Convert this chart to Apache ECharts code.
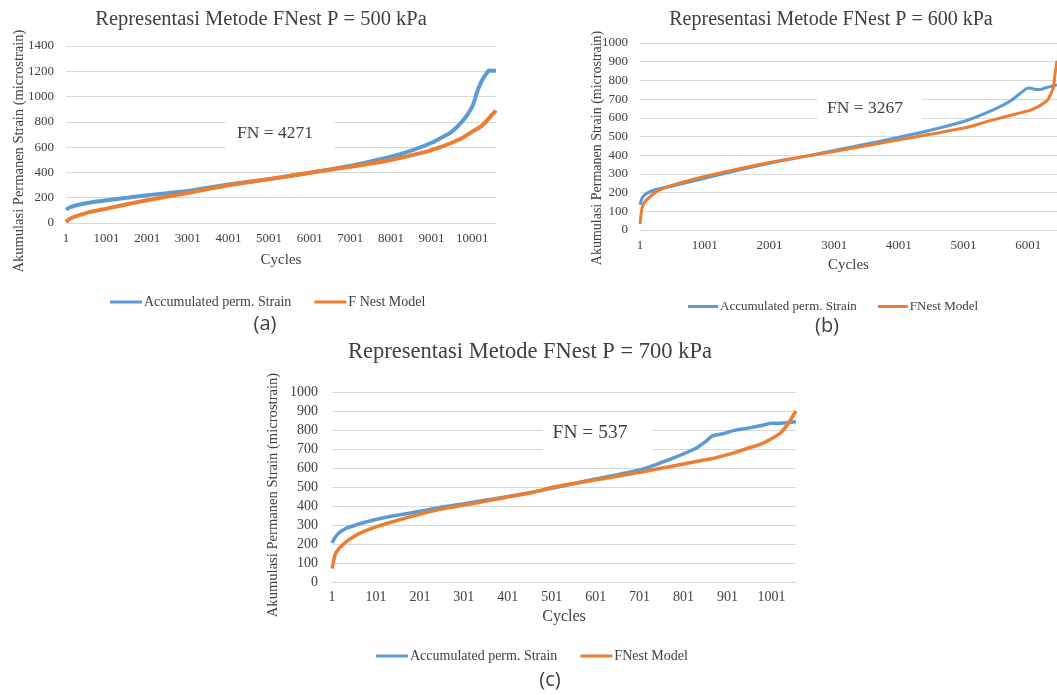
<!DOCTYPE html>
<html><head><meta charset="utf-8">
<script src="https://cdn.jsdelivr.net/npm/echarts@6/dist/echarts.min.js"></script>
<style>html,body{margin:0;padding:0;background:#fff}#c{width:1057px;height:695px}</style>
</head><body><div id="c"></div><script>
// ---- Chart (a) P = 500 kPa ----
const cyclesA = [1,100,200,367,600,1001,1500,2001,3001,4001,5001,6001,7001,7501,8001,8501,9001,9251,9501,9751,10001,10125,10208,10300,10375,10410,10586];
const strainA = [106,125,135,148,162,180,200,220,254,304,347,397,453,487,524,572,635,676,723,802,921,1040,1106,1160,1191,1207,1204];
const modelA  = [8,35,48,66,88,114,148,180,238,299,347,397,445,470,498,535,577,604,635,672,723,745,762,789,815,828,890];
const xTicksA = ['1','1001','2001','3001','4001','5001','6001','7001','8001','9001','10001'];
// ---- Chart (b) P = 600 kPa ----
const cyclesB = [1,27,52,103,258,516,1001,1501,2001,2501,3001,3501,4001,4501,5001,5460,5717,5975,6026,6100,6181,6284,6310,6387,6413,6423,6445];
const strainB = [134,165,179,196,218,237,277,318,357,391,425,460,496,535,580,643,688,757,760,752,751,762,764,771,773,774,777];
const modelB  = [32,107,137,161,205,241,286,325,361,391,420,451,482,513,545,589,612,635,640,650,665,690,700,760,830,855,905];
const xTicksB = ['1','1001','2001','3001','4001','5001','6001'];
// ---- Chart (c) P = 700 kPa ----
const cyclesC = [1,5,9,17,33,50,66,101,139,201,252,301,349,400,462,501,600,701,746,786,827,851,867,891,916,948,981,1001,1021,1037,1057];
const strainC = [206,222,238,259,282,296,308,329,347,372,395,412,430,449,475,493,542,590,625,660,701,739,769,780,798,810,825,836,836,838,843];
const modelC  = [70,114,150,176,211,238,259,290,317,357,385,405,425,447,474,498,537,577,597,614,633,643,650,664,680,704,730,754,783,827,900];
const xTicksC = ['1','101','201','301','401','501','601','701','801','901','1001'];

const titles = ['Representasi Metode FNest P = 500 kPa','Representasi Metode FNest P = 600 kPa','Representasi Metode FNest P = 700 kPa'];
const fnLabels = ['FN = 4271','FN = 3267','FN = 537'];
const panelLabels = ['(a)','(b)','(c)'];
const yTitle = 'Akumulasi Permanen Strain (microstrain)';
const xTitle = 'Cycles';
const nameStrain = 'Accumulated perm. Strain';
const nameModelA = 'F Nest Model';
const nameModel = 'FNest Model';

const SERIF = "'Liberation Serif','Times New Roman',serif";
const TXT = '#404040';
const GRID = '#d9d9d9';
const BLUE = '#5b9bd5';
const ORANGE = '#ed7d31';

function pairs(xs, ys){ return xs.map((x,i)=>[x, ys[i]]); }

function xAxis(idx, max, interval, ticks, fs, margin, gap){
  return {
    type:'value', gridIndex: idx, min: 1, max: max, interval: interval,
    axisLine:{show:true, lineStyle:{color:GRID, width:1}},
    axisTick:{show:false}, splitLine:{show:false},
    axisLabel:{color:TXT, fontFamily:SERIF, fontSize:fs, margin:margin, showMaxLabel:false,
      formatter: v => ticks.indexOf(String(Math.round(v))) >= 0 && Math.abs(v-Math.round(v))<1e-6 ? String(Math.round(v)) : ''},
    name: xTitle, nameLocation:'middle', nameGap: gap,
    nameTextStyle:{color:TXT, fontFamily:SERIF, fontSize:fs+2}
  };
}
function yAxis(idx, max, interval, fs, margin){
  return {
    type:'value', gridIndex: idx, min:0, max:max, interval:interval,
    axisLine:{show:false}, axisTick:{show:false},
    splitLine:{show:true, lineStyle:{color:GRID, width:1}},
    axisLabel:{color:TXT, fontFamily:SERIF, fontSize:fs, margin:margin, formatter: v => String(v)}
  };
}
function line(name, xi, data, color, w){
  return {type:'line', name:name, xAxisIndex:xi, yAxisIndex:xi, data:data,
    showSymbol:false, symbol:'none', smooth:0.25, lineStyle:{color:color, width:w}, itemStyle:{color:color}, z:3};
}
function legend(left, top, names, fs, gap, iw){
  return {left:left, top:top, padding:0, itemGap:gap, itemWidth:iw, itemHeight:3, icon:'rect',
    textStyle:{color:TXT, fontFamily:SERIF, fontSize:fs, padding:[0,0,0,-3]},
    data:[{name:names[0]},{name:names[1]}], selectedMode:false};
}
function txt(x, y, text, size, fam, rot){
  return {type:'text', x:x, y:y, rotation: rot||0, z:20,
    style:{text:text, fill:TXT, font: size+'px '+fam, align:'center', verticalAlign:'middle', textAlign:'center', textVerticalAlign:'middle'}};
}
function box(x, y, w, h){
  return {type:'rect', shape:{x:x, y:y, width:w, height:h}, style:{fill:'#fff'}, z:10};
}

const option = {
  backgroundColor:'#fff',
  animation:false,
  grid:[
    {left:66, top:46, width:430, height:177},
    {left:640, top:43, width:417, height:187},
    {left:332, top:392, width:464, height:190}
  ],
  xAxis:[
    xAxis(0, 10586, 1000, xTicksA, 13, 9, 30),
    xAxis(1, 6445, 1000, xTicksB, 13, 9, 28),
    xAxis(2, 1057, 100, xTicksC, 14, 8, 27)
  ],
  yAxis:[
    yAxis(0, 1400, 200, 13, 12),
    yAxis(1, 1000, 100, 13, 12),
    yAxis(2, 1000, 100, 14, 14)
  ],
  legend:[
    legend(110, 295, [nameStrain, nameModelA], 14, 23, 32),
    legend(688, 300, [nameStrain, nameModel], 13, 21, 30),
    legend(376, 649, [nameStrain, nameModel], 14, 23, 32)
  ],
  series:[
    line(nameStrain, 0, pairs(cyclesA, strainA), BLUE, 4),
    line(nameModelA, 0, pairs(cyclesA, modelA), ORANGE, 4),
    line(nameStrain, 1, pairs(cyclesB, strainB), BLUE, 3),
    line(nameModel, 1, pairs(cyclesB, modelB), ORANGE, 3),
    line(nameStrain, 2, pairs(cyclesC, strainC), BLUE, 3.5),
    line(nameModel, 2, pairs(cyclesC, modelC), ORANGE, 3.5)
  ],
  graphic:[
    txt(261, 20, titles[0], 20.5, SERIF),
    txt(831, 20, titles[1], 20, SERIF),
    txt(530, 352, titles[2], 22.5, SERIF),
    box(226, 112, 108, 46), txt(275, 133, fnLabels[0], 17.5, SERIF),
    box(817, 89, 105, 38), txt(865, 108, fnLabels[1], 17.5, SERIF),
    box(543, 417, 109, 40), txt(590, 433, fnLabels[2], 19.5, SERIF),
    txt(19, 151, yTitle, 14.5, SERIF, Math.PI/2),
    txt(597, 148, yTitle, 14, SERIF, Math.PI/2),
    txt(273, 495, yTitle, 14.6, SERIF, Math.PI/2),
    txt(265, 324, panelLabels[0], 20, "'Open Sans',sans-serif"),
    txt(827, 326, panelLabels[1], 20, "'Open Sans',sans-serif"),
    txt(550, 680, panelLabels[2], 20, "'Open Sans',sans-serif")
  ]
};
const chart = echarts.init(document.getElementById('c'), null, {renderer:'canvas'});
chart.setOption(option);
</script></body></html>
